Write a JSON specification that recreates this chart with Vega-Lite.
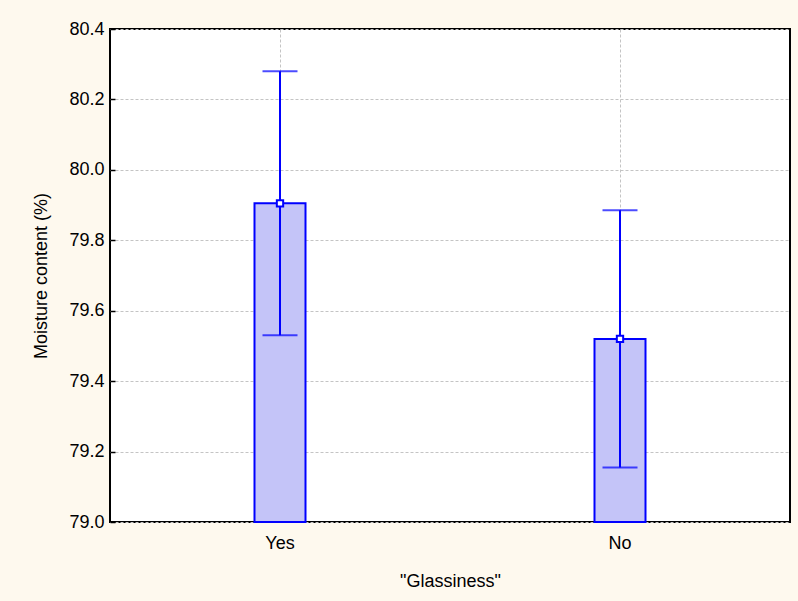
{
  "$schema": "https://vega.github.io/schema/vega-lite/v6.json",
  "width": 680,
  "height": 493,
  "autosize": {"type": "none"},
  "padding": {"left": 110, "top": 29, "right": 8, "bottom": 79},
  "background": "#FEF9EE",
  "config": {
    "view": {"fill": "#FFFFFF", "stroke": "#000000", "strokeWidth": 2},
    "font": "Liberation Sans",
    "axis": {
      "labelFont": "Liberation Sans",
      "titleFont": "Liberation Sans",
      "labelFontSize": 18,
      "titleFontSize": 18,
      "labelColor": "#000000",
      "titleColor": "#000000",
      "titleFontWeight": "normal",
      "domain": false,
      "tickColor": "#000000",
      "tickSize": -5,
      "tickWidth": 1.5,
      "grid": true,
      "gridColor": "#C4C4C4",
      "gridDash": [3, 2],
      "gridWidth": 1
    }
  },
  "data": {
    "values": [
      {"g": "Yes", "mean": 79.905, "lo": 79.53, "hi": 80.28, "base": 79.0},
      {"g": "No", "mean": 79.52, "lo": 79.155, "hi": 79.885, "base": 79.0}
    ]
  },
  "encoding": {
    "x": {
      "field": "g",
      "type": "nominal",
      "sort": ["Yes", "No"],
      "scale": {"paddingInner": 0, "paddingOuter": 0},
      "axis": {"labelAngle": 0, "title": "\"Glassiness\"", "bandPosition": 0.5, "labelPadding": 17, "titlePadding": 20}
    }
  },
  "layer": [
    {
      "mark": {"type": "bar", "size": 51, "fill": "#C4C4F8", "stroke": "#0000FF", "strokeWidth": 2},
      "encoding": {
        "y": {
          "field": "mean",
          "type": "quantitative",
          "scale": {"domain": [79.0, 80.4], "zero": false, "nice": false},
          "axis": {"title": "Moisture content (%)", "format": ".1f", "values": [79.0, 79.2, 79.4, 79.6, 79.8, 80.0, 80.2, 80.4], "labelPadding": 11, "titlePadding": 18}
        },
        "y2": {"field": "base"}
      }
    },
    {
      "mark": {"type": "rule", "color": "#0000FF", "strokeWidth": 2},
      "encoding": {
        "y": {"field": "lo", "type": "quantitative"},
        "y2": {"field": "hi"}
      }
    },
    {
      "mark": {"type": "tick", "orient": "horizontal", "size": 35, "thickness": 2, "color": "#0000FF"},
      "encoding": {"y": {"field": "lo", "type": "quantitative"}}
    },
    {
      "mark": {"type": "tick", "orient": "horizontal", "size": 35, "thickness": 2, "color": "#0000FF"},
      "encoding": {"y": {"field": "hi", "type": "quantitative"}}
    },
    {
      "mark": {"type": "point", "shape": "square", "size": 40, "filled": true, "fill": "#FFFFFF", "stroke": "#0000FF", "strokeWidth": 2, "opacity": 1},
      "encoding": {"y": {"field": "mean", "type": "quantitative"}}
    }
  ]
}
